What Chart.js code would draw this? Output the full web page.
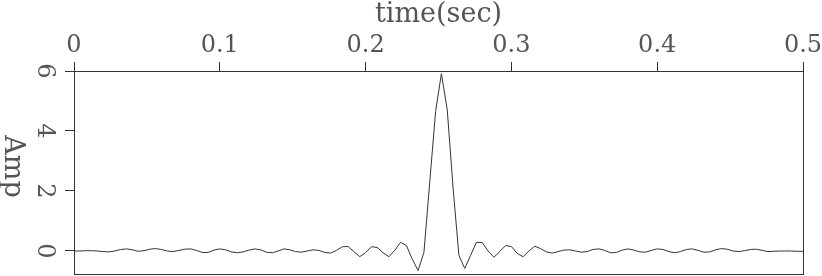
<!DOCTYPE html>
<html>
<head>
<meta charset="utf-8">
<script src="https://cdn.jsdelivr.net/npm/chart.js@4/dist/chart.umd.min.js"></script>
<style>
  html, body { margin: 0; padding: 0; background: #fff; }
  #wrap { width: 822px; height: 276px; }
</style>
</head>
<body>
<div id="wrap"><canvas id="trace" width="822" height="276"></canvas></div>
<script>
// sample times (sec)
const times = [
  0.000, 0.004, 0.008, 0.012, 0.016, 0.020, 0.024, 0.028, 0.032, 0.036,
  0.040, 0.044, 0.048, 0.052, 0.056, 0.060, 0.064, 0.068, 0.072, 0.076,
  0.080, 0.084, 0.088, 0.092, 0.096, 0.100, 0.104, 0.108, 0.112, 0.116,
  0.120, 0.124, 0.128, 0.132, 0.136, 0.140, 0.144, 0.148, 0.152, 0.156,
  0.160, 0.164, 0.168, 0.172, 0.176, 0.180, 0.184, 0.188, 0.192, 0.196,
  0.200, 0.204, 0.208, 0.212, 0.216, 0.220, 0.224, 0.228, 0.232, 0.236,
  0.240, 0.244, 0.248, 0.252, 0.256, 0.260, 0.264, 0.268, 0.272, 0.276,
  0.280, 0.284, 0.288, 0.292, 0.296, 0.300, 0.304, 0.308, 0.312, 0.316,
  0.320, 0.324, 0.328, 0.332, 0.336, 0.340, 0.344, 0.348, 0.352, 0.356,
  0.360, 0.364, 0.368, 0.372, 0.376, 0.380, 0.384, 0.388, 0.392, 0.396,
  0.400, 0.404, 0.408, 0.412, 0.416, 0.420, 0.424, 0.428, 0.432, 0.436,
  0.440, 0.444, 0.448, 0.452, 0.456, 0.460, 0.464, 0.468, 0.472, 0.476,
  0.480, 0.484, 0.488, 0.492, 0.496, 0.500
];
// amplitude
const amp = [
   0.00,  0.00,  0.01,  0.01,  0.00, -0.02, -0.03,  0.00,  0.05,  0.07,
   0.04, -0.01,  0.01,  0.06,  0.08,  0.05,  0.00, -0.02,  0.02,  0.06,
   0.07,  0.02, -0.05, -0.05,  0.03,  0.07,  0.04, -0.03, -0.06, -0.03,
   0.03,  0.07,  0.04, -0.04, -0.06,  0.00,  0.07,  0.04, -0.02, -0.04,
   0.00,  0.04,  0.02, -0.05, -0.07,  0.02,  0.14,  0.15, -0.02, -0.19,
  -0.05,  0.14,  0.12, -0.06, -0.19,  0.02,  0.29,  0.18, -0.27, -0.65,
  -0.05,  2.30,  4.65,  5.91,  4.71,  2.10, -0.15, -0.58, -0.15,  0.29,
   0.28,  0.00, -0.21, -0.02,  0.18,  0.15, -0.08, -0.19,  0.00,  0.16,
   0.08, -0.03, -0.07, -0.02,  0.03,  0.04,  0.00, -0.04, -0.02,  0.05,
   0.07,  0.02, -0.06, -0.05,  0.03,  0.07,  0.03, -0.03, -0.04,  0.02,
   0.07,  0.05, -0.02, -0.06, -0.02,  0.05,  0.07,  0.02, -0.04, -0.03,
   0.04,  0.08,  0.06,  0.00, -0.02,  0.01,  0.05,  0.06,  0.02, -0.02,
  -0.01,  0.00,  0.00,  0.00, -0.01, -0.01
];
const xTicks = [0, 0.1, 0.2, 0.3, 0.4, 0.5];
const yTicks = [0, 2, 4, 6];
const xTitle = 'time(sec)';
const yTitle = 'Amp';

const INK = '#333';
const TXT = '#555';
const TICK_FONT = { family: 'DejaVu Serif', size: 24 };

// box round the plot + y title rotated clockwise
const framePlugin = {
  id: 'frame',
  afterDraw(chart) {
    const { ctx, chartArea: a } = chart;
    ctx.save();
    ctx.strokeStyle = INK;
    ctx.lineWidth = 1;
    ctx.strokeRect(Math.round(a.left) + 0.5, Math.round(a.top) + 0.5,
                   Math.round(a.right - a.left), Math.round(a.bottom - a.top));
    const ys = chart.scales.y;
    ctx.translate(12, (ys.top + ys.bottom) / 2 - 6);
    ctx.rotate(Math.PI / 2);
    ctx.fillStyle = TXT;
    ctx.font = '27px "DejaVu Serif"';
    ctx.textAlign = 'center';
    ctx.textBaseline = 'middle';
    ctx.fillText(yTitle, 0, 0);
    ctx.restore();
  }
};

new Chart(document.getElementById('trace'), {
  type: 'line',
  data: {
    datasets: [{
      data: times.map((t, i) => ({ x: t, y: amp[i] })),
      borderColor: INK, borderWidth: 1, pointRadius: 0, tension: 0, fill: false,
    }]
  },
  options: {
    responsive: false, animation: false, parsing: false,
    layout: { padding: { left: 0, right: 19, top: 0, bottom: 2 } },
    plugins: { legend: { display: false }, tooltip: { enabled: false } },
    scales: {
      x: {
        type: 'linear', position: 'top', min: 0, max: 0.5,
        afterBuildTicks: s => { s.ticks = xTicks.map(v => ({ value: v })); },
        afterFit: s => { s.height = 71; s.paddingLeft = 0; s.paddingRight = 0; },
        ticks: { color: TXT, font: TICK_FONT, padding: 2, maxRotation: 0,
                 callback: v => String(v) },
        grid: { drawOnChartArea: false, tickLength: 9, color: INK },
        border: { color: INK, width: 1 },
        title: { display: true, text: xTitle, color: TXT,
                 font: { family: 'DejaVu Serif', size: 27, lineHeight: 1 },
                 padding: { top: 1, bottom: 0 } },
      },
      y: {
        type: 'linear', min: -0.767, max: 6,
        afterBuildTicks: s => { s.ticks = yTicks.map(v => ({ value: v })); },
        afterFit: s => { s.width = 74; s.paddingTop = 0; s.paddingBottom = 0; },
        ticks: { color: TXT, font: TICK_FONT, padding: 13,
                 minRotation: -90, maxRotation: -90, crossAlign: 'center' },
        grid: { drawOnChartArea: false, tickLength: 9, color: INK },
        border: { color: INK, width: 1 },
        title: { display: false },
      },
    },
  },
  plugins: [framePlugin],
});
</script>
</body>
</html>
